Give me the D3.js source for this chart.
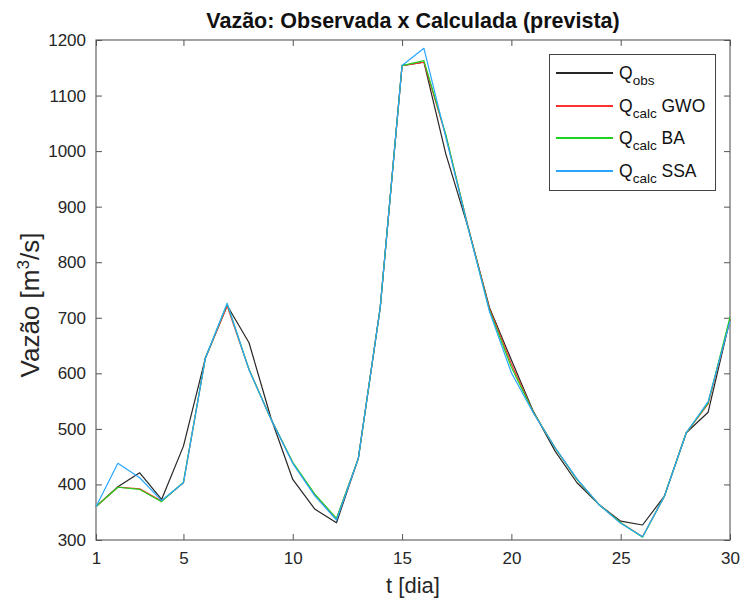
<!DOCTYPE html>
<html>
<head>
<meta charset="utf-8">
<script src="https://cdn.jsdelivr.net/npm/d3@7"></script>
<style>
  body { margin: 0; background: #fff; }
  svg { display: block; font-family: "Liberation Sans", Arial, sans-serif; }
</style>
</head>
<body>
<svg id="chart" width="743" height="600"></svg>
<script>
const days = d3.range(1, 31);
const qObs = [360, 396, 421, 373, 469, 627, 722, 655, 520, 409, 356, 331, 447, 718, 1154, 1160, 995, 865, 718, 624, 532, 460, 403, 364, 334, 327, 379, 493, 530, 697];
const qGWO = [360, 395, 392, 370, 403, 627, 721, 607, 518, 439, 382, 338, 447, 718, 1154, 1160, 1028, 867, 716, 617, 530, 466, 409, 364, 331, 306, 379, 493, 545, 697];
const qBA  = [360, 395, 391, 369, 404, 627, 725, 607, 518, 440, 383, 339, 447, 718, 1154, 1163, 1030, 866, 713, 611, 530, 466, 409, 364, 331, 305, 379, 493, 547, 701];
const qSSA = [360, 438, 412, 371, 403, 627, 726, 606, 518, 438, 380, 336, 447, 718, 1154, 1185, 1025, 865, 711, 601, 529, 466, 410, 364, 330, 306, 379, 493, 549, 694];
const xTicks = [1, 5, 10, 15, 20, 25, 30];
const yTicks = [300, 400, 500, 600, 700, 800, 900, 1000, 1100, 1200];

const series = [
  { name: "obs",  suffix: "",     values: qObs, color: "#262626" },
  { name: "calc", suffix: " GWO", values: qGWO, color: "#ff3030" },
  { name: "calc", suffix: " BA",  values: qBA,  color: "#1ed21e" },
  { name: "calc", suffix: " SSA", values: qSSA, color: "#2aa6ff" }
];

const svg = d3.select("#chart");
const L = 96, R = 730, T = 40, B = 540;
const x = d3.scaleLinear().domain([1, 30]).range([L, R]);
const y = d3.scaleLinear().domain([300, 1200]).range([B, T]);
const axisColor = "#262626";
const tickLen = 6;

// box
svg.append("rect").attr("x", L).attr("y", T).attr("width", R - L).attr("height", B - T)
  .attr("fill", "#fff").attr("stroke", "#666").attr("stroke-width", 1.2);

const gx = svg.append("g").attr("transform", `translate(0,${B})`)
  .call(d3.axisBottom(x).tickValues(xTicks).tickSize(-tickLen).tickPadding(12).tickFormat(d3.format("d")));
const gxTop = svg.append("g").attr("transform", `translate(0,${T})`)
  .call(d3.axisTop(x).tickValues(xTicks).tickSize(-tickLen).tickFormat(""));
const gy = svg.append("g").attr("transform", `translate(${L},0)`)
  .call(d3.axisLeft(y).tickValues(yTicks).tickSize(-tickLen).tickPadding(10).tickFormat(d3.format("d")));
const gyR = svg.append("g").attr("transform", `translate(${R},0)`)
  .call(d3.axisRight(y).tickValues(yTicks).tickSize(-tickLen).tickFormat(""));
[gx, gxTop, gy, gyR].forEach(g => {
  g.select(".domain").remove();
  g.selectAll(".tick line").attr("stroke", "#555").attr("stroke-width", 1);
  g.selectAll(".tick text").attr("fill", axisColor).attr("font-size", 17)
    .attr("font-family", "'Liberation Sans', Arial, sans-serif");
});

// lines
const line = d3.line().x((d, i) => x(days[i])).y(d => y(d));
series.forEach(s => {
  svg.append("path").datum(s.values).attr("d", line)
    .attr("fill", "none").attr("stroke", s.color).attr("stroke-width", 1.2)
    .attr("stroke-linejoin", "round");
});

// title
svg.append("text").attr("x", (L + R) / 2).attr("y", 28).attr("text-anchor", "middle")
  .attr("font-size", 21.5).attr("font-weight", "bold").attr("fill", "#111")
  .text("Vazão: Observada x Calculada (prevista)");

// x label
svg.append("text").attr("x", (L + R) / 2).attr("y", 593).attr("text-anchor", "middle")
  .attr("font-size", 22).attr("fill", axisColor).text("t [dia]");

// y label
const yl = svg.append("text").attr("transform", `translate(39,305) rotate(-90)`)
  .attr("text-anchor", "middle").attr("font-size", 26).attr("fill", axisColor);
yl.append("tspan").text("Vazão [m");
yl.append("tspan").attr("dy", -10).attr("font-size", 17).text("3");
yl.append("tspan").attr("dy", 10).text("/s]");

// legend
const lg = svg.append("g");
lg.append("rect").attr("x", 549.5).attr("y", 54.5).attr("width", 166).attr("height", 136)
  .attr("fill", "#fff").attr("stroke", "#444").attr("stroke-width", 1);
series.forEach((s, i) => {
  const yy = Math.round(73 + i * 32.5);
  lg.append("line").attr("x1", 556).attr("x2", 613).attr("y1", yy).attr("y2", yy)
    .attr("stroke", s.color).attr("stroke-width", 2);
  const t = lg.append("text").attr("x", 619).attr("y", yy + 6).attr("font-size", 17.5).attr("fill", "#111");
  t.append("tspan").text("Q");
  t.append("tspan").attr("dy", 6).attr("font-size", 13.5).text(s.name);
  if (s.suffix) t.append("tspan").attr("dy", -6).text(s.suffix);
});
</script>
</body>
</html>
